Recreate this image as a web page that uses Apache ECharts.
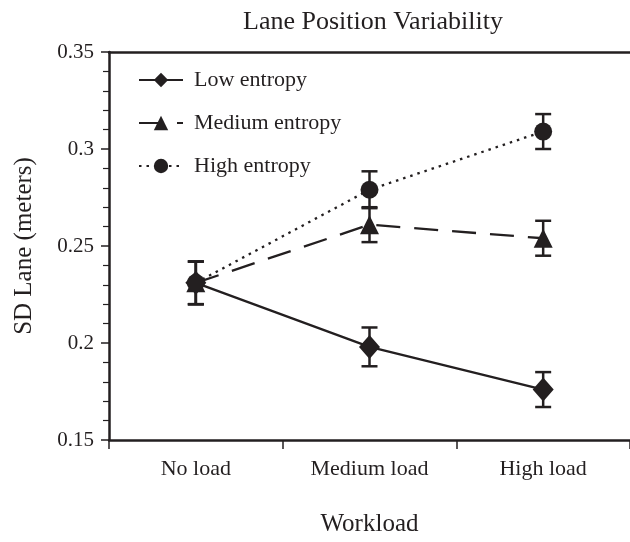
<!DOCTYPE html>
<html>
<head>
<meta charset="utf-8">
<script src="https://cdn.jsdelivr.net/npm/echarts@6/dist/echarts.min.js"></script>
<style>
  html, body { margin: 0; padding: 0; background: #fff; }
  #chart { width: 630px; height: 542px; }
</style>
</head>
<body>
<div id="chart"></div>
<script>
// data
var categories = ['No load', 'Medium load', 'High load'];
var lowMean = [0.231, 0.198, 0.176];
var lowErr = [0.011, 0.010, 0.009];
var medMean = [0.231, 0.261, 0.254];
var medErr = [0.011, 0.009, 0.009];
var highMean = [0.231, 0.279, 0.309];
var highErr = [0.011, 0.0095, 0.009];
var yTicks = [0.15, 0.2, 0.25, 0.3, 0.35];

var ink = '#231f20';
var serif = 'Liberation Serif, Times New Roman, serif';

// [x, low, high] for error bars
function errData(mean, err) {
  return mean.map(function (m, i) { return [i, m - err[i], m + err[i]]; });
}

function errSeries(mean, err) {
  return {
    type: 'custom',
    silent: true,
    z: 1,
    data: errData(mean, err),
    renderItem: function (params, api) {
      var x = api.value(0);
      var lo = api.coord([x, api.value(1)]);
      var hi = api.coord([x, api.value(2)]);
      var hw = 8;
      var st = { stroke: ink, lineWidth: 2.5 };
      return {
        type: 'group',
        children: [
          { type: 'line', shape: { x1: hi[0], y1: hi[1], x2: lo[0], y2: lo[1] }, style: st },
          { type: 'line', shape: { x1: hi[0] - hw, y1: hi[1], x2: hi[0] + hw, y2: hi[1] }, style: st },
          { type: 'line', shape: { x1: lo[0] - hw, y1: lo[1], x2: lo[0] + hw, y2: lo[1] }, style: st }
        ]
      };
    }
  };
}

function lineSeries(name, data, symbol, size, lineType) {
  return {
    name: name,
    type: 'line',
    data: data,
    symbol: symbol,
    symbolSize: size,
    z: 3,
    itemStyle: { color: ink },
    lineStyle: { color: ink, width: 2.3, type: lineType },
    emphasis: { disabled: true }
  };
}

var myChart = echarts.init(document.getElementById('chart'));
var option = {
  animation: false,
  backgroundColor: '#fff',
  title: {
    text: 'Lane Position Variability',
    left: 368,
    textAlign: 'center',
    top: 4,
    textStyle: { fontFamily: serif, fontSize: 26, fontWeight: 'normal', color: ink }
  },
  legend: {
    orient: 'vertical',
    left: 133,
    top: 64,
    itemWidth: 44,
    itemHeight: 18,
    itemGap: 21,
    textStyle: { fontFamily: serif, fontSize: 22, color: ink, padding: [0, 0, 0, 6] },
    data: ['Low entropy', 'Medium entropy', 'High entropy']
  },
  grid: { left: 109, right: 0, top: 52, bottom: 98 },
  xAxis: [{
    type: 'category',
    data: categories,
    boundaryGap: true,
    name: 'Workload',
    nameLocation: 'middle',
    nameGap: 72,
    nameTextStyle: { fontFamily: serif, fontSize: 25, color: ink },
    axisLine: { lineStyle: { color: ink, width: 2.5 } },
    axisTick: { show: true, length: 9, lineStyle: { color: ink, width: 1.5 } },
    axisLabel: { fontFamily: serif, fontSize: 22, color: ink, margin: 18 },
    splitLine: { show: false }
  }, {
    type: 'category',
    data: categories,
    position: 'top',
    axisLine: { lineStyle: { color: ink, width: 2.5 } },
    axisTick: { show: false },
    axisLabel: { show: false },
    splitLine: { show: false }
  }],
  yAxis: {
    type: 'value',
    min: yTicks[0],
    max: yTicks[yTicks.length - 1],
    interval: 0.05,
    name: 'SD Lane (meters)',
    nameLocation: 'middle',
    nameGap: 72,
    nameTextStyle: { fontFamily: serif, fontSize: 25, color: ink },
    axisLine: { show: true, lineStyle: { color: ink, width: 2.5 } },
    axisTick: { show: true, length: 8, lineStyle: { color: ink, width: 1.5 } },
    minorTick: { show: true, splitNumber: 5, length: 6, lineStyle: { color: ink, width: 1.2 } },
    axisLabel: { fontFamily: serif, fontSize: 21, color: ink, margin: 15 },
    splitLine: { show: false }
  },
  series: [
    errSeries(lowMean, lowErr),
    errSeries(medMean, medErr),
    errSeries(highMean, highErr),
    lineSeries('Low entropy', lowMean, 'diamond', [21, 24], 'solid'),
    lineSeries('Medium entropy', medMean, 'triangle', 19, [24, 14]),
    lineSeries('High entropy', highMean, 'circle', 18, [2.5, 5])
  ]
};
myChart.setOption(option);
</script>
</body>
</html>
